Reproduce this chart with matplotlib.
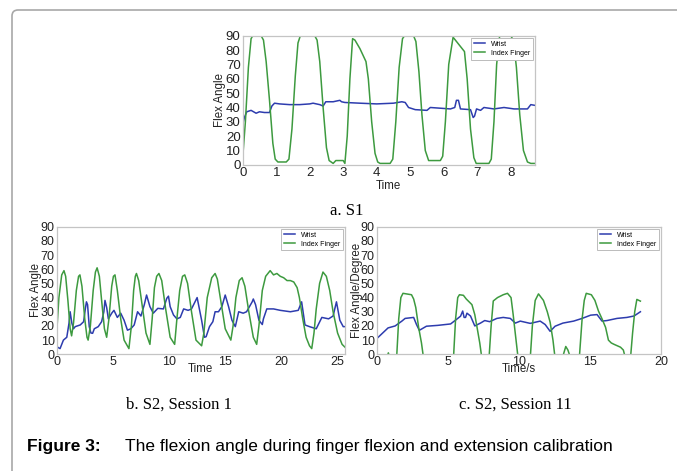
import matplotlib
matplotlib.use("Agg")
import matplotlib.pyplot as plt
from matplotlib.patches import PathPatch
from matplotlib.path import Path
from matplotlib.transforms import IdentityTransform

# ---- panel a: S1 ----
wrist_a_t = [0, 0.05, 0.12, 0.25, 0.4, 0.5, 0.65, 0.8, 0.87, 0.95, 1.1, 1.4, 1.7, 2.0, 2.1,
             2.3, 2.4, 2.48, 2.7, 2.9, 2.95, 3.05, 3.5, 4.0, 4.5, 4.75, 4.85, 4.95, 5.15, 5.5,
             5.6, 5.9, 6.2, 6.33, 6.38, 6.44, 6.5, 6.8, 6.88, 6.92, 6.98, 7.1, 7.2, 7.5, 7.8,
             8.1, 8.5, 8.6, 8.72]
wrist_a_v = [28, 33, 37, 38, 36, 37, 36.5, 36.5, 41, 43, 42.5, 42, 42, 42.5, 43,
             42, 41, 44, 44, 45, 44, 43.5, 43, 42.5, 43, 44, 43.5, 40, 38.5, 38,
             40, 39.5, 39, 40, 45, 45, 39, 38.5, 33, 34, 39, 38, 40, 39, 40,
             39, 39, 42, 41.5]
finger_a_t = [0, 0.08, 0.17, 0.25, 0.3, 0.55, 0.62, 0.7, 0.8, 0.9, 0.97, 1.05, 1.3, 1.38, 1.47,
              1.57, 1.65, 1.72, 2.15, 2.22, 2.3, 2.4, 2.5, 2.58, 2.7, 2.78, 3.0, 3.05, 3.12, 3.2,
              3.28, 3.35, 3.5, 3.68, 3.75, 3.85, 3.95, 4.03, 4.1, 4.4, 4.48, 4.57, 4.67, 4.77, 4.83,
              5.1, 5.17, 5.26, 5.35, 5.45, 5.55, 5.65, 5.9, 5.97, 6.05, 6.15, 6.28, 6.45, 6.62, 6.7,
              6.8, 6.9, 6.97, 7.35, 7.42, 7.5, 7.58, 7.67, 8.0, 8.08, 8.17, 8.27, 8.38, 8.5, 8.6,
              8.72]
finger_a_v = [5, 30, 68, 88, 90, 90, 87, 72, 45, 15, 4, 2, 2, 4, 25,
              62, 85, 90, 90, 87, 72, 40, 12, 3, 1, 3, 3, 1, 20, 60,
              88, 87, 81, 72, 60, 30, 8, 2, 1, 1, 4, 30, 68, 88, 90,
              90, 86, 65, 35, 10, 3, 3, 3, 6, 30, 70, 89, 84, 79, 60,
              25, 5, 1, 1, 4, 30, 70, 90, 90, 87, 68, 35, 10, 2, 1,
              1]

# ---- panel b: S2, session 1 ----
wrist_b_t = [0, 0.3, 0.6, 0.9, 1.1, 1.2, 1.35, 1.5, 1.65, 2.1, 2.4, 2.55, 2.65, 2.75, 2.9,
             3.05, 3.2, 3.35, 3.7, 4.0, 4.2, 4.3, 4.45, 4.6, 4.9, 5.1, 5.4, 5.7, 6.0, 6.3,
             6.6, 6.9, 7.2, 7.5, 7.8, 8.0, 8.3, 8.6, 9.0, 9.5, 9.8, 9.95, 10.1, 10.4, 10.7,
             11.0, 11.3, 11.7, 12.0, 12.5, 12.9, 13.15, 13.3, 13.6, 13.9, 14.1, 14.4, 14.7, 15.0, 15.3,
             15.6, 15.9, 16.2, 16.6, 16.9, 17.4, 17.5, 17.7, 18.0, 18.3, 18.4, 18.7, 19.3, 19.9, 20.8,
             21.5, 21.7, 21.8, 22.1, 22.5, 23.1, 23.6, 24.2, 24.6, 24.9, 25.2, 25.5, 25.66]
wrist_b_v = [5.4, 4, 10, 12, 22, 30, 22, 18, 19.5, 20.7, 23, 32, 37, 35, 19.5,
             15, 14.8, 18, 19.5, 23, 30, 38, 33, 25, 29, 31, 26, 29, 24, 17,
             18, 20.7, 30, 27, 35, 41.8, 33.6, 29, 32.4, 32, 39.5, 41, 33.6, 27.7, 25,
             26, 32, 31, 32, 40, 24, 12, 12.4, 19.5, 23, 30, 30, 33.6, 41.8, 33.6,
             24, 19.5, 30, 29, 30, 37, 39, 35, 24, 21, 25, 32, 32, 31, 30,
             31, 35, 37, 20.7, 19.5, 18, 26, 25, 27, 37, 24, 19.5, 19.5]
finger_b_t = [0, 0.2, 0.45, 0.65, 0.8, 1.0, 1.2, 1.33,
              1.5, 1.75, 1.95, 2.07, 2.25, 2.5, 2.7, 2.8,
              3.0, 3.25, 3.45, 3.6, 3.8, 4.0, 4.25, 4.45,
              4.65, 4.9, 5.05, 5.19, 5.4, 5.7, 6.0, 6.43,
              6.65, 6.85, 7.0, 7.1, 7.3, 7.6, 7.95, 8.3,
              8.5, 8.7, 8.9, 9.1, 9.35, 9.7, 10.1, 10.5,
              10.7, 10.95, 11.2, 11.4, 11.65, 12.0, 12.4, 12.9,
              13.1, 13.4, 13.8, 14.1, 14.3, 14.6, 15.0, 15.5,
              15.7, 15.95, 16.25, 16.5, 16.75, 17.1, 17.5, 17.8,
              18.0, 18.3, 18.6, 19.0, 19.3, 19.6, 19.9, 20.2, 20.5, 20.8, 21.1, 21.4, 21.6, 21.9,
              22.2, 22.5, 22.7,
              22.9, 23.1, 23.4, 23.7, 24.0, 24.3, 24.6, 25.0, 25.4, 25.66]
finger_b_v = [15, 40, 56, 59, 55, 38, 18, 13,
              22, 45, 55, 56, 48, 25, 12, 10,
              20, 45, 58, 61, 55, 38, 18, 12,
              25, 48, 55, 56, 45, 25, 10, 4,
              20, 45, 55, 57, 52, 35, 15, 7,
              25, 47, 55, 57, 52, 32, 12, 7,
              25, 45, 55, 56, 50, 30, 10, 6,
              15, 40, 54, 57, 53, 38, 18, 10,
              20, 40, 52, 54, 48, 30, 12, 7,
              20, 45, 55, 59, 56, 57, 55, 54, 52, 52, 51, 47, 40, 25,
              12, 6, 4,
              15, 32, 50, 58, 55, 45, 30, 15, 7, 5]

# ---- panel c: S2, session 11 ----
wrist_c_t = [0, 0.8, 1.3, 1.77, 2.0, 2.6, 2.8, 3.0, 3.5, 4.3, 5.2, 5.6, 5.9, 6.05, 6.15,
             6.25, 6.35, 6.6, 6.9, 7.3, 7.6, 7.95, 8.45, 8.9, 9.4, 9.75, 10.1, 10.8, 11.5, 11.85,
             12.2, 12.55, 13.1, 13.85, 14.45, 15.05, 15.5, 15.85, 16.2, 16.9, 17.6, 18.1, 18.55]
wrist_c_v = [11, 18.6, 20, 23.4, 25.3, 26, 21, 16.9, 19.8, 20.4, 21.4, 24.5, 26.9, 30.5, 26,
             26, 29, 27, 20, 22, 23.8, 23, 25.3, 26, 25.3, 22, 23.4, 21.8, 23.4, 21,
             16.2, 19.8, 22, 23.4, 25.3, 27.6, 28, 23.4, 23.8, 25.3, 26, 27, 30]
finger_c_t = [0, 0.7, 0.82, 0.95, 1.4, 1.55, 1.7, 1.85, 2.45, 2.6, 2.75, 2.95, 3.15, 3.3,
              5.4, 5.55, 5.7, 5.82, 6.1, 6.3, 6.7, 6.9, 7.06, 7.25, 7.4,
              7.9, 8.05, 8.2, 8.5, 8.9, 9.2, 9.45, 9.6, 9.7, 9.95,
              10.8, 10.95, 11.15, 11.38, 11.73, 12.0, 12.2, 12.4, 12.55,
              13.05, 13.3, 13.45, 13.65,
              14.25, 14.45, 14.6, 14.74, 15.1, 15.35, 15.6, 15.85, 16.1, 16.3, 16.5, 16.7, 17.15, 17.35, 17.5,
              17.85, 18.0, 18.15, 18.3, 18.55]
finger_c_v = [-3, -3, 1, -3, -3, 25, 40, 43, 42, 39, 33, 19, 8, -3,
              -3, 25, 40, 42, 41.6, 39, 35, 28, 19, 8, -3,
              -3, 20, 37.6, 40, 42, 43, 40, 28, 19, -3,
              -3, 20, 38, 42.6, 38, 30, 22.6, 10, -3,
              -3, 5.5, 3, -3,
              -3, 25, 38, 43, 42, 38, 30.5, 25, 19, 10, 8, 7, 5, 3, -3,
              -3, 15, 30, 38.7, 37.5]

series_names = ["Wrist", "Index Finger"]
y_ticks = list(range(0, 100, 10))
xticks_a = list(range(0, 9))
xticks_b = [0, 5, 10, 15, 20, 25]
xticks_c = [0, 5, 10, 15, 20]

BLUE = "#2d3cae"
GREEN = "#3d9a3f"
SANS = "Liberation Sans"
SERIF = "Liberation Serif"

fig = plt.figure(figsize=(6.77, 4.71), dpi=100)

# page frame: only the top and left edges show, with a rounded corner (pixel coords)
frame_path = Path([(12, -5), (12, 455), (12, 461), (18, 461), (700, 461)],
                  [Path.MOVETO, Path.LINETO, Path.CURVE3, Path.CURVE3, Path.LINETO])
frame = PathPatch(frame_path, facecolor="none", edgecolor="#a8a8a8", linewidth=1.2,
                  transform=IdentityTransform())
fig.add_artist(frame)


def panel(rect, wt, wv, ft, fv, xlim, xticks, ylabel, xlabel, ylabelpad, xlabelpad, tsize):
    ax = fig.add_axes(rect)
    ax.plot(wt, wv, color=BLUE, lw=1.1, label=series_names[0])
    ax.plot(ft, fv, color=GREEN, lw=1.1, label=series_names[1])
    ax.set_xlim(*xlim)
    ax.set_ylim(0, 90)
    ax.set_xticks(xticks)
    ax.set_yticks(y_ticks)
    ax.tick_params(length=0, pad=1.5, labelsize=tsize, colors="#222222")
    for lab in ax.get_xticklabels() + ax.get_yticklabels():
        lab.set_family(SANS)
    for sp in ax.spines.values():
        sp.set_color("#c4c4c4")
        sp.set_linewidth(0.9)
    ax.set_ylabel(ylabel, fontsize=8.3, family=SANS, labelpad=ylabelpad, color="#222222")
    ax.set_xlabel(xlabel, fontsize=8.3, family=SANS, labelpad=xlabelpad, color="#222222")
    leg = ax.legend(loc="upper right", prop={"family": SANS, "size": 5},
                    handlelength=1.6, borderaxespad=0.3, fancybox=False, framealpha=1,
                    borderpad=0.4, labelspacing=0.3)
    leg.get_frame().set_edgecolor("#bbbbbb")
    leg.get_frame().set_linewidth(0.7)
    return ax


panel([0.3585, 0.650, 0.4315, 0.274], wrist_a_t, wrist_a_v, finger_a_t, finger_a_v,
      (0, 8.72), xticks_a, "Flex Angle", "Time", 0, 1, 9.5)
panel([0.0837, 0.2478, 0.4259, 0.2709], wrist_b_t, wrist_b_v, finger_b_t, finger_b_v,
      (0, 25.66), xticks_b, "Flex Angle", "Time", -1, -4, 9)
panel([0.5564, 0.2478, 0.4200, 0.2709], wrist_c_t, wrist_c_v, finger_c_t, finger_c_v,
      (0, 20), xticks_c, "Flex Angle/Degree", "Time/s", -2, -4, 9)

fig.text(347 / 677, 1 - 211 / 471, "a. S1", family=SERIF, fontsize=12, ha="center", va="center")
fig.text(179 / 677, 1 - 405 / 471, "b. S2, Session 1", family=SERIF, fontsize=12,
         ha="center", va="center")
fig.text(515 / 677, 1 - 405 / 471, "c. S2, Session 11", family=SERIF, fontsize=12,
         ha="center", va="center")

fig.text(27 / 677, 1 - 447 / 471, "Figure 3:", family=SANS, fontsize=12.5, weight="bold",
         ha="left", va="center")
fig.text(125 / 677, 1 - 447 / 471, "The flexion angle during finger flexion and extension calibration",
         family=SANS, fontsize=12.5, ha="left", va="center")

fig.savefig("out.png", dpi=100)
